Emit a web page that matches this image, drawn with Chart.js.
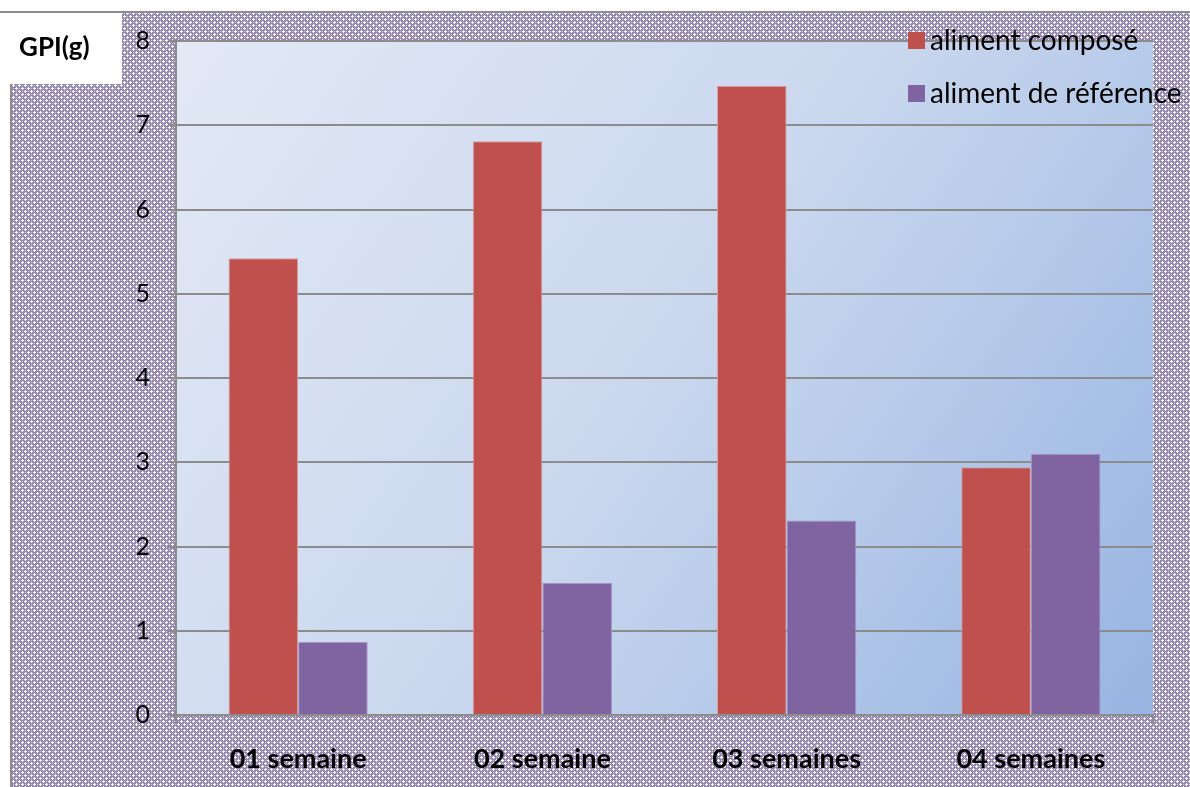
<!DOCTYPE html>
<html>
<head>
<meta charset="utf-8">
<script src="https://cdn.jsdelivr.net/npm/chart.js@4"></script>
<style>
  body { margin: 0; background: #fff; }
  canvas { display: block; }
</style>
</head>
<body>
<canvas id="myChart" width="1190" height="787"></canvas>
<script>
const categories = ['01 semaine', '02 semaine', '03 semaines', '04 semaines'];
const alimentCompose = [5.42, 6.81, 7.47, 2.94];
const alimentReference = [0.87, 1.57, 2.31, 3.10];
const seriesNames = ['aliment composé', 'aliment de référence'];
const yTitle = 'GPI(g)';

const FONT = 'Lato, "Open Sans", sans-serif';

// small tile for the hatched frame background
function makePattern(ctx) {
  const t = document.createElement('canvas');
  t.width = 6; t.height = 6;
  const c = t.getContext('2d');
  c.fillStyle = '#9487b0';
  c.fillRect(0, 0, 6, 6);
  c.fillStyle = '#cfc8dc';
  c.fillRect(4, 1, 1, 1); c.fillRect(1, 4, 1, 1);
  c.fillStyle = '#fdfcfe';
  [[1,0],[0,1],[1,1],[2,1],[1,2],[4,3],[3,4],[4,4],[5,4],[4,5]].forEach(p => c.fillRect(p[0], p[1], 1, 1));
  return ctx.createPattern(t, 'repeat');
}

const backdrop = {
  id: 'backdrop',
  beforeDraw(chart) {
    const ctx = chart.ctx;
    const a = chart.chartArea;
    const W = chart.width, H = chart.height;
    ctx.save();
    ctx.fillStyle = '#fff';
    ctx.fillRect(0, 0, W, H);
    ctx.fillStyle = makePattern(ctx);
    ctx.fillRect(10, 12, W - 10, H - 12);
    // frame lines
    ctx.strokeStyle = '#8c8c8c';
    ctx.lineWidth = 2;
    ctx.beginPath();
    ctx.moveTo(0, 12); ctx.lineTo(W, 12);
    ctx.moveTo(11, 84); ctx.lineTo(11, H);
    ctx.stroke();
    // white title box
    ctx.fillStyle = '#fff';
    ctx.fillRect(0, 13, 122, 71);
    ctx.fillStyle = '#000';
    ctx.font = 'bold 26px ' + FONT;
    ctx.textBaseline = 'middle';
    ctx.fillText(yTitle, 19, 48);
    // plot area gradient
    const g = ctx.createLinearGradient(a.left, a.top, a.right, a.bottom);
    g.addColorStop(0, '#e3e9f5');
    g.addColorStop(0.5, '#c9d7ee');
    g.addColorStop(1, '#97b4e2');
    ctx.fillStyle = g;
    ctx.fillRect(a.left, a.top, a.right - a.left, a.bottom - a.top);
    ctx.restore();
  },
  afterDraw(chart) {
    const ctx = chart.ctx;
    ctx.save();
    ctx.font = '28px ' + FONT;
    ctx.textBaseline = 'middle';
    chart.data.datasets.forEach((ds, i) => {
      const y = 41 + i * 53;
      ctx.fillStyle = ds.backgroundColor;
      ctx.fillRect(908, y - 9, 17, 17);
      ctx.fillStyle = '#000';
      ctx.fillText(ds.label, 930, y);
    });
    ctx.restore();
  }
};

new Chart(document.getElementById('myChart'), {
  type: 'bar',
  data: {
    labels: categories,
    datasets: [
      { label: seriesNames[0], data: alimentCompose, backgroundColor: '#c0504d', borderColor: '#d9a0a0', borderWidth: 1 },
      { label: seriesNames[1], data: alimentReference, backgroundColor: '#8064a2', borderColor: '#a795c4', borderWidth: 1 }
    ]
  },
  options: {
    responsive: false,
    animation: false,
    categoryPercentage: 0.57,
    barPercentage: 1.0,
    layout: { padding: { left: 0, top: 41, right: 37, bottom: 0 } },
    plugins: { legend: { display: false }, tooltip: { enabled: false } },
    scales: {
      x: {
        afterFit(scale) { scale.height = 72; },
        border: { color: '#8c8c8c', width: 2 },
        grid: { offset: true, drawOnChartArea: false, color: '#8c8c8c', lineWidth: 2, tickLength: 8 },
        ticks: { color: '#000', padding: 20, font: { family: FONT, size: 27, weight: 'bold' } }
      },
      y: {
        min: 0, max: 8,
        afterFit(scale) { scale.width = 176; },
        border: { color: '#8c8c8c', width: 2 },
        grid: { color: '#8c8c8c', lineWidth: 2, tickLength: 8 },
        ticks: { stepSize: 1, color: '#000', padding: 18, font: { family: FONT, size: 25 } }
      }
    }
  },
  plugins: [backdrop]
});
</script>
</body>
</html>
